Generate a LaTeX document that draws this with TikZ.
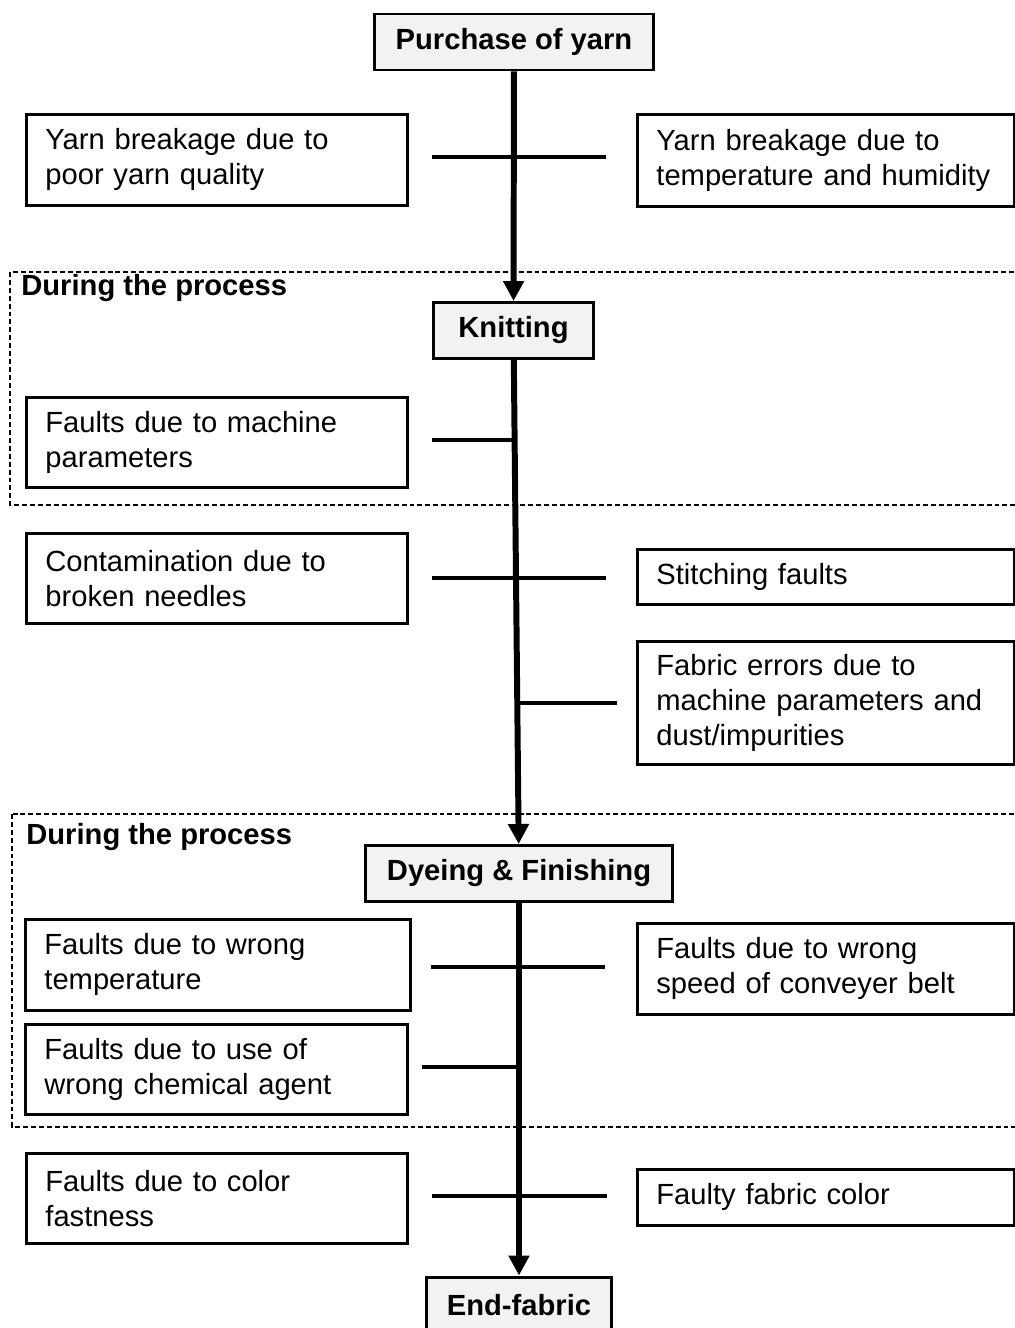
\documentclass[tikz,border=0pt]{standalone}
\usepackage{fontspec}
\setmainfont{Liberation Sans}
\usetikzlibrary{arrows.meta,positioning}
\definecolor{stagefill}{RGB}{242,242,242}
\newcommand\flowfont{\fontsize{16.6pt}{19.9pt}\selectfont}
\tikzset{
  stage/.style={draw,line width=1.7pt,fill=stagefill,font=\flowfont\bfseries,align=center,minimum height=1.12cm},
  cause/.style={draw,line width=1.6pt,font=\flowfont,anchor=north west,align=left,inner xsep=0.38cm,text width=6.86cm,minimum height=1.8cm},
  flow/.style={line width=3.4pt,-{Triangle[length=0.4cm,width=0.4cm]}},
  bar/.style={line width=2.8pt},
  phase/.style={line width=1.1pt,dash pattern=on 2.8pt off 1.7pt},
  phaselabel/.style={font=\flowfont\bfseries,anchor=west,inner sep=0pt}
}
\begin{document}
\begin{tikzpicture}[x=0.02cm,y=-0.02cm]
        \useasboundingbox (0,0) rectangle (1014,1328);
        \draw[phase] (10,272) rectangle (1030,505);
        \draw[phase] (12,814) rectangle (1030,1127);
        \node[phaselabel] (ph1) at (21,288) {During the process};
        \node[phaselabel] (ph2) at (26,837) {During the process};
        \node[stage,minimum width=5.6cm]
        (buy) at (514,42) {Purchase of yarn};
        \node[stage,minimum width=3.22cm]
        (knit) at (513.5,330.5) {Knitting};
        \node[stage,minimum width=6.16cm]
        (dye) at (519,873.5) {Dyeing \& Finishing};
        \node[stage,minimum width=3.72cm]
        (end) at (519,1305) {End-fabric};
        \node[cause,minimum height=1.82cm]
        (ybq) at (25,113) {Yarn breakage due to\\poor yarn quality};
        \node[cause,text width=6.78cm,minimum height=1.84cm]
        (yth) at (636,113) {Yarn breakage due to\\temperature and humidity};
        \node[cause]
        (fmp) at (25,396) {Faults due to machine\\parameters};
        \node[cause]
        (cbn) at (25,532) {Contamination due to\\broken needles};
        \node[cause,text width=6.78cm,minimum height=1.1cm]
        (sfl) at (636,548) {Stitching faults};
        \node[cause,text width=6.78cm,minimum height=2.46cm]
        (fem) at (636,640) {Fabric errors due to\\machine parameters and\\dust/impurities};
        \node[cause,text width=6.94cm,minimum height=1.82cm]
        (fwt) at (24,918) {Faults due to wrong\\temperature};
        \node[cause,text width=6.78cm,minimum height=1.82cm]
        (fws) at (636,922) {Faults due to wrong\\speed of conveyer belt};
        \node[cause,text width=6.88cm]
        (fwc) at (24,1023) {Faults due to use of\\wrong chemical agent};
        \node[cause]
        (fcf) at (25,1152) {Faults due to color\\fastness};
        \node[cause,text width=6.78cm,minimum height=1.12cm]
        (ffc) at (636,1168) {Faulty fabric color};
        \coordinate (b1w) at (432,157); \coordinate (b1e) at (606,157);
        \coordinate (b2w) at (432,440); \coordinate (b2e) at (517,440);
        \coordinate (b3w) at (432,578); \coordinate (b3e) at (606,578);
        \coordinate (b4w) at (518,703); \coordinate (b4e) at (617,703);
        \coordinate (b5w) at (431,967); \coordinate (b5e) at (605,967);
        \coordinate (b6w) at (422,1067); \coordinate (b6e) at (519,1067);
        \coordinate (b7w) at (432,1196); \coordinate (b7e) at (607,1196);
        \foreach \b in {1,...,7}
        \draw[bar] (b\b w) -- (b\b e);
        \draw[flow] (buy) -- (knit);
        \draw[flow] (knit) -- (dye);
        \draw[flow] (dye) -- (end);
        \end{tikzpicture}
\end{document}
